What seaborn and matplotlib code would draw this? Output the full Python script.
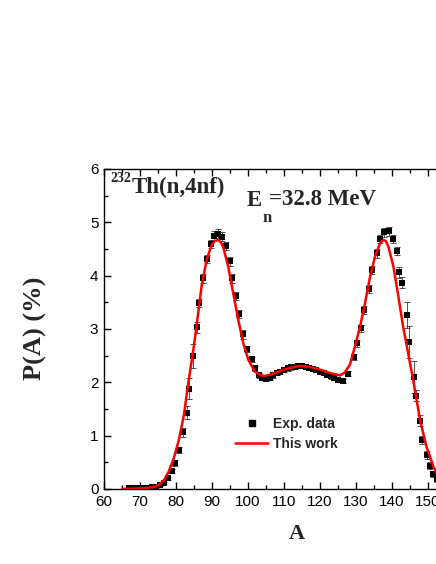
import matplotlib
matplotlib.use("Agg")
import matplotlib.pyplot as plt
from matplotlib.ticker import MultipleLocator
from matplotlib.lines import Line2D
import seaborn as sns
import pandas as pd

exp_A = [67.0, 68.0, 69.0, 70.0, 71.0, 72.3, 73.4, 74.4, 75.6, 76.7, 77.8, 78.8, 79.7, 80.7,
         81.9, 83.0, 83.6, 84.7, 85.7, 86.5, 87.4, 88.5, 89.6, 90.5, 91.8, 92.9, 93.9, 95.0,
         95.5, 96.7, 97.6, 98.7, 99.8, 101.0, 102.0, 103.0, 104.0, 105.0, 106.0, 107.0, 108.0,
         109.0, 110.0, 111.0, 112.0, 113.0, 114.0, 115.0, 116.0, 117.0, 118.0, 119.0, 120.0,
         121.0, 122.0, 123.0, 124.0, 125.0, 126.5, 127.9, 129.4, 130.4, 131.4, 132.3, 133.6,
         134.5, 135.7, 136.7, 137.9, 139.2, 140.4, 141.3, 142.0, 142.8, 144.1, 144.7, 146.1,
         146.7, 147.8, 148.4, 149.6, 150.6, 151.5, 152.5]
exp_P = [0.01, 0.01, 0.01, 0.015, 0.02, 0.02, 0.03, 0.04, 0.07, 0.12, 0.20, 0.34, 0.49, 0.73,
         1.06, 1.43, 1.88, 2.49, 3.03, 3.49, 3.95, 4.31, 4.59, 4.75, 4.79, 4.73, 4.56, 4.27,
         3.95, 3.62, 3.28, 2.90, 2.63, 2.43, 2.26, 2.13, 2.08, 2.07, 2.09, 2.13, 2.17,
         2.20, 2.23, 2.26, 2.28, 2.29, 2.30, 2.30, 2.29, 2.27, 2.25, 2.23, 2.20,
         2.17, 2.14, 2.11, 2.08, 2.05, 2.03, 2.16, 2.48, 2.73, 3.01, 3.36, 3.75,
         4.11, 4.42, 4.69, 4.81, 4.83, 4.69, 4.46, 4.06, 3.87, 3.26, 2.75, 2.10,
         1.75, 1.28, 0.92, 0.64, 0.44, 0.28, 0.18]
exp_err = [0.01, 0.01, 0.01, 0.01, 0.01, 0.01, 0.01, 0.01, 0.02, 0.02, 0.03, 0.04, 0.05, 0.06,
           0.08, 0.12, 0.20, 0.22, 0.10, 0.08, 0.08, 0.08, 0.08, 0.08, 0.08, 0.08, 0.08, 0.08,
           0.08, 0.08, 0.08, 0.08, 0.06, 0.05, 0.05, 0.04, 0.04, 0.04, 0.04, 0.04, 0.04,
           0.04, 0.04, 0.04, 0.04, 0.04, 0.04, 0.04, 0.04, 0.04, 0.04, 0.04, 0.04,
           0.04, 0.04, 0.04, 0.04, 0.04, 0.04, 0.05, 0.06, 0.06, 0.06, 0.08, 0.08,
           0.08, 0.08, 0.08, 0.08, 0.08, 0.08, 0.08, 0.10, 0.10, 0.25, 0.30, 0.30,
           0.10, 0.10, 0.08, 0.08, 0.06, 0.05, 0.04]

# model curve ("This work")
curve_A = [65, 68, 70, 72, 74, 75.5, 76.7, 78, 79.4, 80.8, 82.2, 83.4, 84.8, 85.7, 87.1, 88.5,
           89.9, 90.8, 91.7, 92.5, 93.1, 94.5, 95.9, 97.3, 98.7, 100.1, 101.9, 103.3, 104.5,
           106, 108, 111, 114.4, 117, 120, 123, 125.6, 126.8, 128.3, 129.7, 131.1, 132.5,
           133.9, 135.3, 136.7, 137.6, 138.3, 139, 140.4, 141.8, 143.1, 144.5, 145.9, 147.8,
           149.6, 151.5, 153, 155]
curve_P = [0.0, 0.005, 0.01, 0.02, 0.04, 0.09, 0.17, 0.33, 0.58, 0.92, 1.39, 1.98, 2.6, 3.05,
           3.8, 4.29, 4.58, 4.65, 4.67, 4.62, 4.54, 4.17, 3.67, 3.17, 2.73, 2.42, 2.2, 2.14,
           2.12, 2.14, 2.19, 2.26, 2.31, 2.29, 2.24, 2.17, 2.13, 2.18, 2.33, 2.67, 3.04, 3.48,
           3.98, 4.36, 4.61, 4.67, 4.65, 4.54, 4.17, 3.6, 3.04, 2.54, 2.04, 1.29,
           0.79, 0.42, 0.22, 0.08]

df_exp = pd.DataFrame({"A": exp_A, "P": exp_P, "err": exp_err})
df_fit = pd.DataFrame({"A": curve_A, "P": curve_P})

sns.set_style("ticks")
plt.rcParams["font.family"] = ["Liberation Sans", "DejaVu Sans"]

fig = plt.figure(figsize=(4.36, 5.64), dpi=100)
ax = fig.add_axes([104 / 436, 75 / 564, 360 / 436, 320 / 564])

ax.errorbar(df_exp["A"], df_exp["P"], yerr=df_exp["err"], fmt="none",
            ecolor="#333333", elinewidth=0.6, capsize=2, capthick=0.6, zorder=2)
sns.scatterplot(data=df_exp, x="A", y="P", marker="s", s=24, color="black",
                linewidth=0, ax=ax, zorder=3)
sns.lineplot(data=df_fit, x="A", y="P", sort=False, color="red", lw=1.8, ax=ax, zorder=4)

ax.set_xlim(60, 160)
ax.set_ylim(0, 6)
ax.xaxis.set_major_locator(MultipleLocator(10))
ax.xaxis.set_minor_locator(MultipleLocator(5))
ax.yaxis.set_major_locator(MultipleLocator(1))
ax.yaxis.set_minor_locator(MultipleLocator(0.5))
ax.tick_params(which="both", direction="in", top=True, right=True, width=1, labelsize=11,
               colors="black")
ax.tick_params(which="major", length=5, pad=4)
ax.tick_params(which="minor", length=3)
for sp in ax.spines.values():
    sp.set_linewidth(1)
    sp.set_color("black")

serif = ["Liberation Serif", "DejaVu Serif"]
ax.set_xlabel("A", fontsize=16, fontweight="bold", family=serif)
ax.xaxis.set_label_coords(0.536, -0.11)
ax.set_ylabel("P(A) (%)", fontsize=19, fontweight="bold", family=serif)
ax.yaxis.set_label_coords(-0.158, 0.503)

ax.text(61.67, 5.76, "232", fontsize=10, fontweight="bold", family=serif, va="baseline")
ax.text(67.78, 5.55, "Th(n,4nf)", fontsize=16.5, fontweight="bold", family=serif, va="baseline")
ax.text(99.72, 5.30, "E", fontsize=16.5, fontweight="bold", family=serif, va="baseline")
ax.text(103.9, 5.01, "n", fontsize=12, fontweight="bold", family=serif, va="baseline")
ax.text(105.8, 5.33, "=32.8 MeV", fontsize=16.5, fontweight="bold", family=serif, va="baseline")

handles = [Line2D([], [], ls="none", marker="s", ms=5, color="black"),
           Line2D([], [], color="red", lw=1.8)]
ax.legend(handles, ["Exp. data", "This work"], loc="upper left",
          bbox_to_anchor=(0.364, 0.225), frameon=False, borderaxespad=0, borderpad=0,
          handlelength=2.4, handletextpad=0.3, labelspacing=0.45,
          prop={"weight": "bold", "size": 10})

fig.savefig("out.png", dpi=100)
